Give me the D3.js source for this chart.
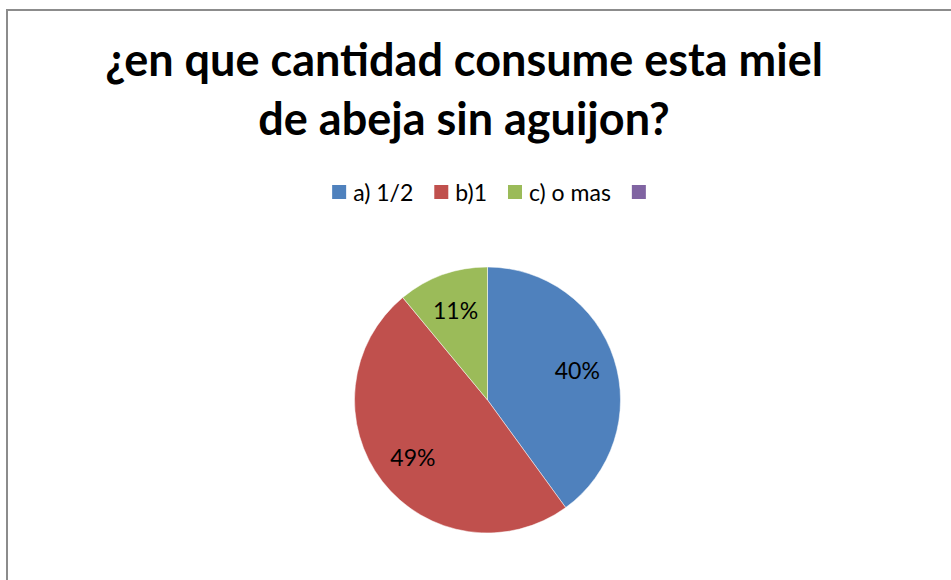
<!DOCTYPE html>
<html>
<head>
<meta charset="utf-8">
<script src="https://cdn.jsdelivr.net/npm/d3@7"></script>
<style>
  body { margin: 0; background: #fff; }
  text { font-family: Lato, "Open Sans", sans-serif; }
</style>
</head>
<body>
<script>
let width = 951;
let height = 580;

// data
let titleLines = ["¿en que cantidad consume esta miel", "de abeja sin aguijon?"];
let categories = ["a) 1/2", "b)1", "c) o mas", ""];
let values = [40, 49, 11];
let colors = ["#4f81bd", "#c0504d", "#9bbb59", "#8064a2"];

let svg = d3.select("body")
    .append("svg")
    .attr("width", width)
    .attr("height", height);

// chart frame
svg.append("rect")
    .attr("x", 7)
    .attr("y", 10)
    .attr("width", width + 10)
    .attr("height", height + 10)
    .attr("fill", "white")
    .attr("stroke", "#8c8c8c")
    .attr("stroke-width", 2);

// title
svg.append("g")
    .selectAll("text")
    .data(titleLines)
    .enter()
    .append("text")
    .attr("x", 464)
    .attr("y", function(d, i) { return 76 + i * 59; })
    .attr("text-anchor", "middle")
    .attr("font-weight", "bold")
    .attr("font-size", 45)
    .attr("fill", "#000")
    .text(function(d) { return d; });

// legend
let legend = svg.append("g");
let legendSize = 14;
let legendX = 0;
categories.forEach(function(c, i) {
    let g = legend.append("g");
    g.append("rect")
        .attr("x", 0)
        .attr("y", 185)
        .attr("width", legendSize)
        .attr("height", legendSize)
        .attr("fill", colors[i]);
    let t = g.append("text")
        .attr("x", legendSize + 7)
        .attr("y", 201)
        .attr("font-size", 23)
        .attr("fill", "#000")
        .text(c);
    let w = legendSize + (c ? 7 + t.node().getComputedTextLength() : 0);
    g.attr("transform", "translate(" + legendX + ",0)");
    legendX += w + 21;
});
let legendWidth = legendX - 21;
legend.attr("transform", "translate(" + (489 - legendWidth / 2) + ",0)");

// pie
let radius = 133;
let pie = d3.pie().sort(null).value(function(d) { return d; });
let arc = d3.arc().innerRadius(0).outerRadius(radius);
let labelArc = d3.arc().innerRadius(radius * 0.71).outerRadius(radius * 0.71);
let total = d3.sum(values);

let chart = svg.append("g")
    .attr("transform", "translate(487.5, 400)");

let slices = chart.selectAll("g.slice")
    .data(pie(values))
    .enter()
    .append("g")
    .attr("class", "slice");

slices.append("path")
    .attr("d", arc)
    .attr("fill", function(d, i) { return colors[i]; })
    .attr("stroke", "white")
    .attr("stroke-width", 0.5);

slices.append("text")
    .attr("transform", function(d) { return "translate(" + labelArc.centroid(d) + ")"; })
    .attr("dy", "0.36em")
    .attr("text-anchor", "middle")
    .attr("font-size", 23)
    .attr("fill", "#000")
    .text(function(d) { return Math.round(d.data / total * 100) + "%"; });
</script>
</body>
</html>
